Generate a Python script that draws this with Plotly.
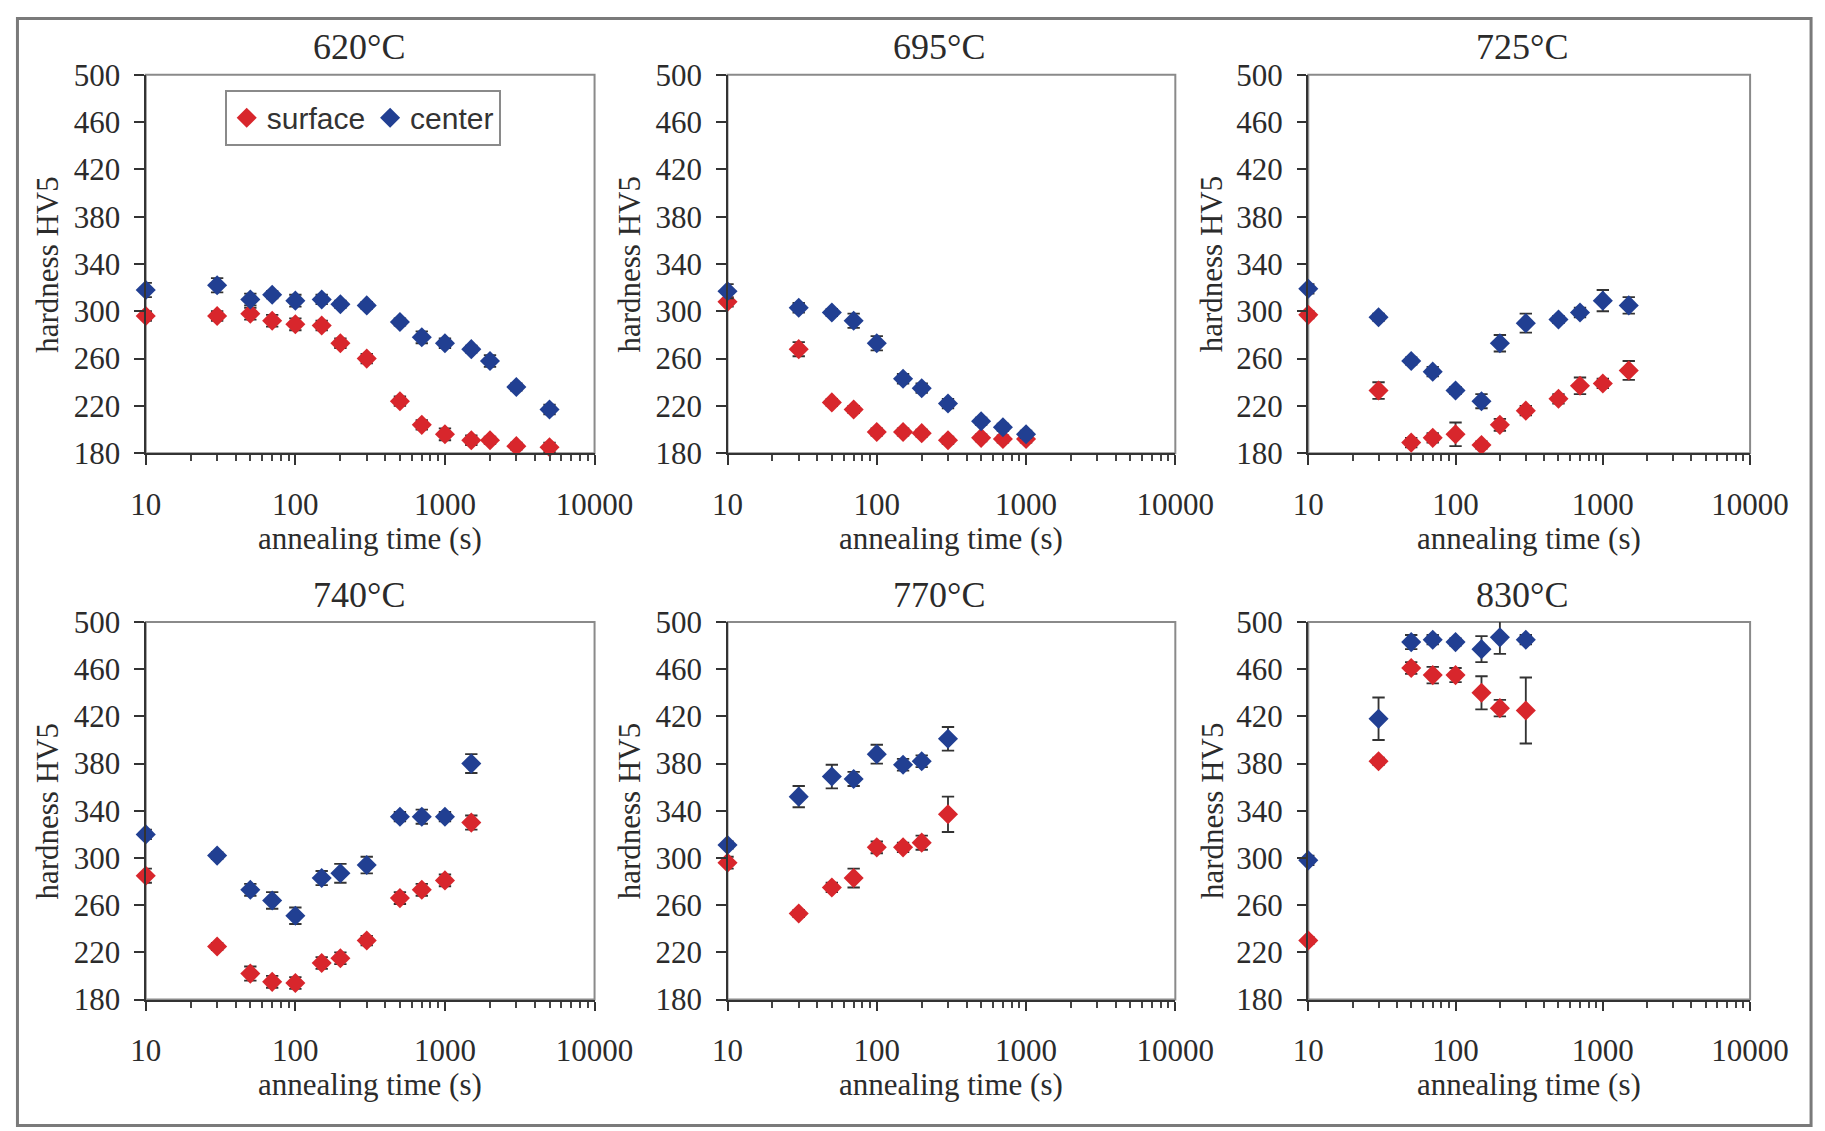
import plotly.graph_objects as go

# ---------------- data ----------------
temps = ["620°C", "695°C", "725°C", "740°C", "770°C", "830°C"]

t620 = [10, 30, 50, 70, 100, 150, 200, 300, 500, 700, 1000, 1500, 2000, 3000, 5000]
surf620 = [296, 296, 298, 292, 289, 288, 273, 260, 224, 204, 196, 191, 191, 186, 185]
surf620_err = [4, 4, 5, 5, 5, 4, 4, 4, 4, 4, 5, 4, 3, 3, 4]
cent620 = [318, 322, 310, 314, 309, 310, 306, 305, 291, 278, 273, 268, 258, 236, 217]
cent620_err = [6, 6, 5, 3, 5, 4, 3, 3, 3, 5, 4, 3, 5, 3, 4]

t695 = [10, 30, 50, 70, 100, 150, 200, 300, 500, 700, 1000]
surf695 = [308, 268, 223, 217, 198, 198, 197, 191, 193, 192, 192]
surf695_err = [4, 6, 3, 3, 3, 3, 3, 3, 3, 3, 3]
cent695 = [317, 303, 299, 292, 273, 243, 235, 222, 207, 202, 196]
cent695_err = [6, 4, 3, 6, 6, 4, 4, 4, 3, 3, 3]

t725 = [10, 30, 50, 70, 100, 150, 200, 300, 500, 700, 1000, 1500]
surf725 = [297, 233, 189, 193, 196, 187, 204, 216, 226, 237, 239, 250]
surf725_err = [3, 7, 4, 4, 10, 3, 5, 4, 4, 7, 4, 8]
cent725 = [319, 295, 258, 249, 233, 224, 273, 290, 293, 299, 309, 305]
cent725_err = [4, 3, 3, 4, 3, 6, 7, 8, 3, 4, 9, 7]

t740 = [10, 30, 50, 70, 100, 150, 200, 300, 500, 700, 1000, 1500]
surf740 = [285, 225, 202, 195, 194, 211, 215, 230, 266, 273, 281, 330]
surf740_err = [6, 3, 6, 5, 5, 5, 5, 4, 5, 5, 5, 6]
cent740 = [320, 302, 273, 264, 251, 283, 287, 294, 335, 335, 335, 380]
cent740_err = [4, 3, 5, 7, 7, 6, 8, 7, 4, 6, 4, 8]

t770 = [10, 30, 50, 70, 100, 150, 200, 300]
surf770 = [296, 253, 275, 283, 309, 309, 313, 337]
surf770_err = [5, 3, 4, 8, 5, 4, 6, 15]
cent770 = [311, 352, 369, 367, 388, 379, 382, 401]
cent770_err = [3, 9, 10, 6, 8, 5, 5, 10]

t830 = [10, 30, 50, 70, 100, 150, 200, 300]
surf830 = [230, 382, 461, 455, 455, 440, 427, 425]
surf830_err = [3, 3, 5, 7, 6, 14, 7, 28]
cent830 = [298, 418, 483, 485, 483, 477, 487, 485]
cent830_err = [4, 18, 6, 4, 3, 11, 14, 4]

y_ticks = [180, 220, 260, 300, 340, 380, 420, 460, 500]
x_ticks = [10, 100, 1000, 10000]
x_ticklabels = ["10", "100", "1000", "10000"]
x_minor_ticks = [20, 30, 40, 50, 60, 70, 80, 90,
                 200, 300, 400, 500, 600, 700, 800, 900,
                 2000, 3000, 4000, 5000, 6000, 7000, 8000, 9000]

panels = [
    (t620, surf620, surf620_err, cent620, cent620_err),
    (t695, surf695, surf695_err, cent695, cent695_err),
    (t725, surf725, surf725_err, cent725, cent725_err),
    (t740, surf740, surf740_err, cent740, cent740_err),
    (t770, surf770, surf770_err, cent770, cent770_err),
    (t830, surf830, surf830_err, cent830, cent830_err),
]

# ---------------- layout geometry ----------------
# The page is photographed with a small offset and scale; work in target
# picture pixels and convert to figure pixels.
S = 0.9707
OX, OY = 14.2, 17.2
W, H = 1852, 1146


def fx(px):
    return ((px - OX) / S) / W


def fy(px):
    return 1 - ((px - OY) / S) / H


def L(v):
    return v / S


cols_px = [(144, 593), (726, 1174), (1307, 1749)]
rows_px = [(75, 454), (623, 1001)]
title_x_px = [357, 938, 1521]
title_y_px = [47, 596]
ylab_x_px = [46, 628, 1211]

RED = "#d8262c"
BLUE = "#213f92"
SERIF = "Liberation Serif, Times New Roman, serif"
SANS = "Liberation Sans, Arial, sans-serif"
TXT = "#2b2b2b"

fig = go.Figure()
layout = dict(
    width=W, height=H, margin=dict(l=0, r=0, t=0, b=0),
    paper_bgcolor="white", plot_bgcolor="white",
    showlegend=True,
)
annotations = []
shapes = []

for i, (t, s, se, c, ce) in enumerate(panels):
    r, col = divmod(i, 3)
    n = i + 1
    xa = "x" if n == 1 else f"x{n}"
    ya = "y" if n == 1 else f"y{n}"
    x0, x1 = cols_px[col]
    y0, y1 = rows_px[r]
    fig.add_trace(go.Scatter(
        x=t, y=s, mode="markers", name="surface", showlegend=(i == 0),
        marker=dict(symbol="diamond", size=L(15), color=RED),
        error_y=dict(type="data", array=se, visible=True, color="#333333",
                     thickness=L(1.8), width=L(6)),
        xaxis=xa, yaxis=ya, cliponaxis=False,
    ))
    fig.add_trace(go.Scatter(
        x=t, y=c, mode="markers", name="center", showlegend=(i == 0),
        marker=dict(symbol="diamond", size=L(15), color=BLUE),
        error_y=dict(type="data", array=ce, visible=True, color="#333333",
                     thickness=L(1.8), width=L(6)),
        xaxis=xa, yaxis=ya, cliponaxis=False,
    ))
    key_x = "xaxis" if n == 1 else f"xaxis{n}"
    key_y = "yaxis" if n == 1 else f"yaxis{n}"
    layout[key_x] = dict(
        type="log", range=[1, 4], domain=[fx(x0), fx(x1)], anchor=ya,
        tickmode="array", tickvals=x_ticks, ticktext=x_ticklabels,
        ticks="outside", ticklen=L(9), tickwidth=2, tickcolor="#333",
        minor=dict(tickmode="array", tickvals=x_minor_ticks, ticks="outside",
                   ticklen=L(6), tickwidth=1.5, tickcolor="#444", showgrid=False),
        showline=True, linecolor="#333", linewidth=2,
        showgrid=False, zeroline=False,
        tickfont=dict(family=SERIF, size=31, color=TXT),
        ticklabelstandoff=13,
        title=None,
    )
    layout[key_y] = dict(
        range=[180, 500], domain=[fy(y1), fy(y0)], anchor=xa,
        tickvals=y_ticks,
        ticks="outside", ticklen=L(9), tickwidth=2, tickcolor="#333",
        showline=True, linecolor="#333", linewidth=2,
        showgrid=False, zeroline=False,
        tickfont=dict(family=SERIF, size=31, color=TXT),
        ticklabelstandoff=8,
        title=None,
    )
    # plot-area frame (top/right gray)
    shapes.append(dict(type="rect", xref=f"{xa} domain", yref=f"{ya} domain",
                       x0=0, x1=1, y0=0, y1=1, line=dict(color="#8a8a8a", width=2), layer="below"))
    # panel title
    annotations.append(dict(text=temps[i], x=fx(title_x_px[col]), y=fy(title_y_px[r]),
                            xref="paper", yref="paper", showarrow=False,
                            font=dict(family=SERIF, size=36, color=TXT),
                            xanchor="center", yanchor="middle"))
    # x axis title
    annotations.append(dict(text="annealing time (s)", x=fx((x0 + x1) / 2), y=fy(y1 + 85),
                            xref="paper", yref="paper", showarrow=False,
                            font=dict(family=SERIF, size=31, color=TXT),
                            xanchor="center", yanchor="middle"))
    # y axis title
    annotations.append(dict(text="hardness HV5", x=fx(ylab_x_px[col]), y=fy((y0 + y1) / 2),
                            xref="paper", yref="paper", showarrow=False, textangle=-90,
                            font=dict(family=SERIF, size=31, color=TXT),
                            xanchor="center", yanchor="middle"))

# outer frame
fx0 = max(fx(10), 1.5 / W)
fy1 = min(fy(10), 1 - 1.5 / H)
shapes.append(dict(type="rect", xref="paper", yref="paper",
                   x0=fx0, x1=min(fx(1810), 1 - 1.5 / W),
                   y0=max(fy(1127), 1.5 / H), y1=fy1,
                   line=dict(color="#7a7a7a", width=3)))

layout["annotations"] = annotations
layout["shapes"] = shapes
layout["legend"] = dict(
    x=fx(223), y=fy(90), xanchor="left", yanchor="top",
    orientation="h", bgcolor="white", bordercolor="#8a8a8a", borderwidth=2,
    font=dict(family=SANS, size=30, color="#333"),
    itemwidth=30, tracegroupgap=0,
)
fig.update_layout(**layout)
fig.write_html("out.html")
